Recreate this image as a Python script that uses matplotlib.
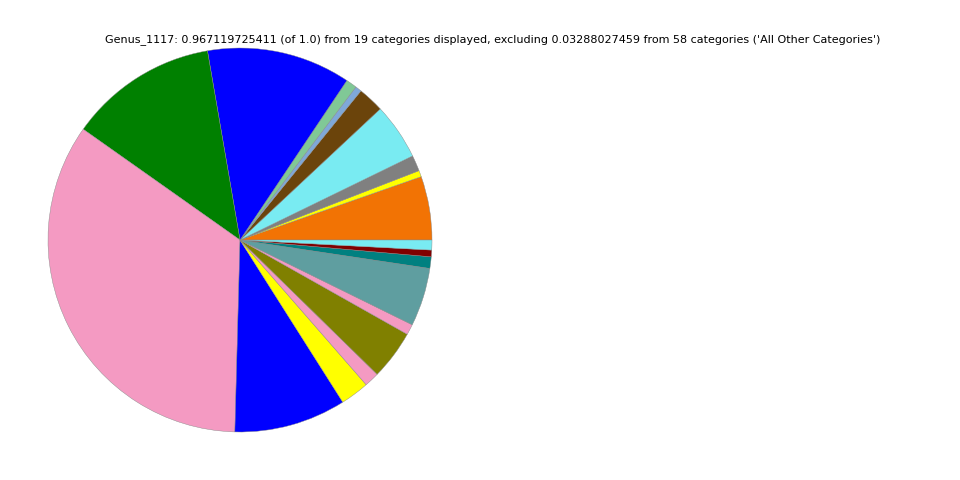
import matplotlib
matplotlib.use("Agg")
import matplotlib.pyplot as plt

TITLE = ("Genus_1117: 0.967119725411 (of 1.0) from 19 categories displayed, "
         "excluding 0.03288027459 from 58 categories ('All Other Categories')")

# slice fractions, counterclockwise from 3 o'clock
values = [0.0518, 0.0051, 0.0129, 0.0459, 0.0212, 0.0051, 0.0089, 0.1171,
          0.1209, 0.3323, 0.0911, 0.0234, 0.0121, 0.0403, 0.0086, 0.0475,
          0.0094, 0.0054, 0.0081]
colors = ["#f27304", "#ffff00", "#808080", "#79ebf2", "#6b440b", "#7fa8d8",
          "#80c896", "#0000ff", "#008000", "#f49ac2", "#0000ff", "#ffff00",
          "#f49ac2", "#808000", "#f49ac2", "#5f9ea0", "#008080", "#800000",
          "#79ebf2"]

fig = plt.figure(figsize=(9.6, 4.8), dpi=100)
ax = fig.add_axes([0, 0, 0.5, 1])
ax.pie(values, colors=colors, startangle=0, counterclock=True,
       wedgeprops=dict(linewidth=0.3, edgecolor="#888888"))
ax.set_xlim(-1.25, 1.25)
ax.set_ylim(-1.25, 1.25)
ax.set_aspect("equal")

fig.text(0.513, 1 - 40 / 480, TITLE, ha="center", va="center", fontsize=8)

plt.savefig("out.png", dpi=100)
